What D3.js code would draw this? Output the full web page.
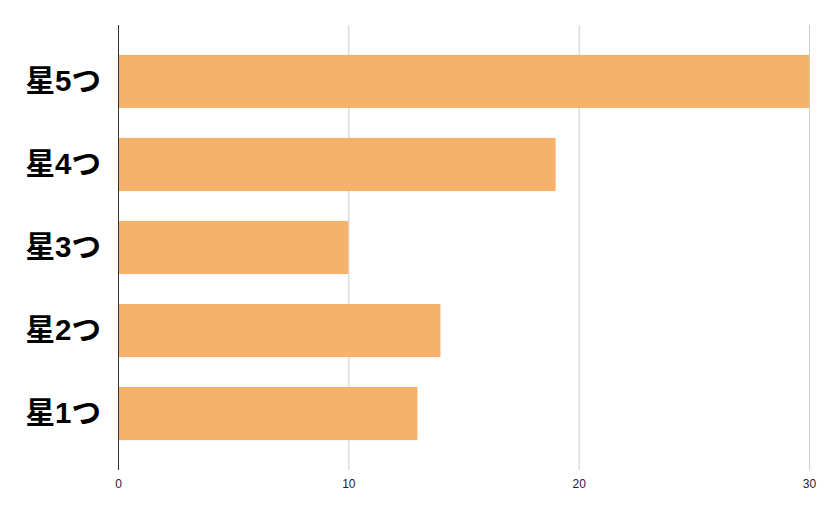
<!DOCTYPE html>
<html>
<head>
<meta charset="utf-8">
<script src="https://cdn.jsdelivr.net/npm/d3@7"></script>
<style>
	body { margin: 0; background: #fff; }
	.grid line { stroke: #cccccc; stroke-width: 1; }
</style>
</head>
<body>
<svg class="chart"></svg>
<script>
// Chart data
var categories = ["星5つ", "星4つ", "星3つ", "星2つ", "星1つ"];
var values = [30, 19, 10, 14, 13];
var xTicks = [0, 10, 20, 30];

var margin = {top: 25, right: 26, bottom: 46, left: 118},
	width = 835 - margin.left - margin.right,
	height = 516 - margin.top - margin.bottom;

var data = categories.map(function(c, i) { return {name: c, value: values[i]}; });

var x = d3.scaleLinear()
	.domain([0, 30])
	.range([0, width]);

var y = d3.scaleBand()
	.domain(categories)
	.range([0, height])
	.paddingInner(0.36)
	.paddingOuter(0.36);

var chart = d3.select(".chart")
	.attr("width", 835)
	.attr("height", 516)
  .append("g")
	.attr("transform", "translate(" + margin.left + "," + margin.top + ")");

// Gridlines
chart.append("g")
	.attr("class", "grid")
	.selectAll("line")
	.data(xTicks.filter(function(t) { return t > 0; }))
  .enter().append("line")
	.attr("x1", function(d) { return x(d) + 0.5; })
	.attr("x2", function(d) { return x(d) + 0.5; })
	.attr("y1", 0)
	.attr("y2", height);

// Bars
chart.selectAll(".bar")
	.data(data)
  .enter().append("rect")
	.attr("class", "bar")
	.attr("x", x(0))
	.attr("y", function(d) { return y(d.name); })
	.attr("width", function(d) { return x(d.value) - x(0); })
	.attr("height", y.bandwidth())
	.attr("fill", "#f6b26b");

// x axis labels
var xAxis = d3.axisBottom(x).tickValues(xTicks).tickSize(0).tickPadding(9);
chart.append("g")
	.attr("class", "x axis")
	.attr("transform", "translate(0," + height + ")")
	.call(xAxis)
	.attr("font-family", "'Liberation Sans', Arial, sans-serif")
	.attr("font-size", 12)
	.call(function(g) { g.select(".domain").remove(); })
	.selectAll("text")
	.attr("fill", "#222");

// y axis
var yAxis = d3.axisLeft(y).tickSize(0).tickPadding(17);
chart.append("g")
	.attr("class", "y axis")
	.call(yAxis)
	.attr("font-family", "'Liberation Sans', 'Noto Sans CJK JP', sans-serif")
	.attr("font-size", 29.5)
	.attr("font-weight", "bold")
	.call(function(g) { g.select(".domain").remove(); })
	.selectAll("text")
	.attr("fill", "#000");

// Baseline
chart.append("line")
	.attr("x1", 0.5)
	.attr("x2", 0.5)
	.attr("y1", 0)
	.attr("y2", height)
	.attr("stroke", "#333")
	.attr("stroke-width", 1);
</script>
</body>
</html>
